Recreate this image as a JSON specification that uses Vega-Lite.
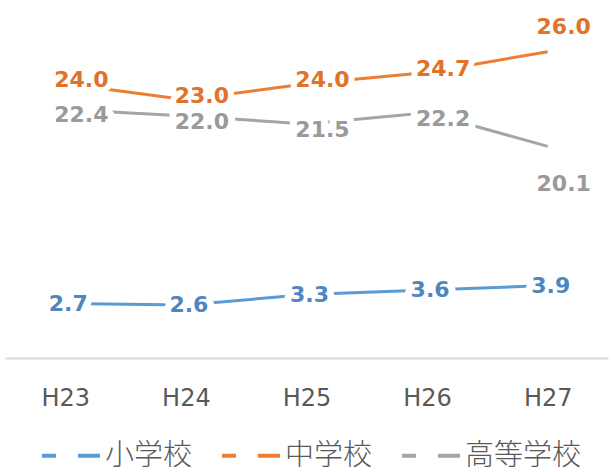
{
  "$schema": "https://vega.github.io/schema/vega-lite/v6.json",
  "width": 603,
  "height": 348,
  "autosize": {"type": "none"},
  "padding": {"left": 5, "top": 10, "right": 3, "bottom": 114},
  "background": "white",
  "config": {"view": {"stroke": null}},
  "data": {
    "values": [
      {"year": "H23", "school": "小学校", "value": 2.7},
      {"year": "H24", "school": "小学校", "value": 2.6},
      {"year": "H25", "school": "小学校", "value": 3.3},
      {"year": "H26", "school": "小学校", "value": 3.6},
      {"year": "H27", "school": "小学校", "value": 3.9},
      {"year": "H23", "school": "中学校", "value": 24.0},
      {"year": "H24", "school": "中学校", "value": 23.0},
      {"year": "H25", "school": "中学校", "value": 24.0},
      {"year": "H26", "school": "中学校", "value": 24.7},
      {"year": "H27", "school": "中学校", "value": 26.0},
      {"year": "H23", "school": "高等学校", "value": 22.4},
      {"year": "H24", "school": "高等学校", "value": 22.0},
      {"year": "H25", "school": "高等学校", "value": 21.5},
      {"year": "H26", "school": "高等学校", "value": 22.2},
      {"year": "H27", "school": "高等学校", "value": 20.1}
    ]
  },
  "encoding": {
    "x": {
      "field": "year",
      "type": "ordinal",
      "sort": ["H23", "H24", "H25", "H26", "H27"],
      "scale": {"type": "point", "padding": 0.5},
      "axis": {
        "title": null,
        "ticks": false,
        "domainColor": "#d9d9d9",
        "domainWidth": 2,
        "labelFont": "DejaVu Sans",
        "labelFontSize": 24,
        "labelColor": "#595959",
        "labelPadding": 28,
        "labelAngle": 0,
        "grid": false
      }
    },
    "y": {
      "field": "value",
      "type": "quantitative",
      "scale": {"type": "linear", "domain": [-0.93, 4, 20, 28.6], "range": [348, 274, 138, 0], "nice": false, "zero": false},
      "axis": null
    }
  },
  "layer": [
    {
      "mark": {"type": "line", "strokeWidth": 3},
      "encoding": {
        "color": {
          "field": "school",
          "type": "nominal",
          "scale": {"domain": ["小学校", "中学校", "高等学校"], "range": ["#5b9bd5", "#ed7d31", "#a5a5a5"]},
          "legend": {
            "title": null,
            "orient": "none",
            "direction": "horizontal",
            "legendX": 49.5,
            "legendY": 429,
            "padding": 0,
            "symbolType": "M-2,0H2",
            "symbolStrokeWidth": 4,
            "symbolSize": 841,
            "symbolDash": [14, 22, 22, 100],
            "labelFont": "Noto Sans CJK JP",
            "labelFontSize": 29,
            "labelColor": "#595959",
            "labelFontWeight": 300,
            "labelOffset": 17.5,
            "columnPadding": 21
          }
        }
      }
    },
    {
      "transform": [{"filter": "datum.school === '高等学校' && datum.year !== 'H27'"}],
      "mark": {"type": "text", "font": "DejaVu Sans", "fontSize": 22, "fontWeight": "bold", "dx": 16, "dy": 6, "fill": "white", "stroke": "white", "strokeWidth": 14, "strokeJoin": "round"},
      "encoding": {"text": {"field": "value", "type": "quantitative", "format": ".1f"}}
    },
    {
      "transform": [{"filter": "datum.school === '中学校' && datum.year !== 'H27'"}],
      "mark": {"type": "text", "font": "DejaVu Sans", "fontSize": 22, "fontWeight": "bold", "dx": 16, "dy": -4, "fill": "white", "stroke": "white", "strokeWidth": 12, "strokeJoin": "round"},
      "encoding": {"text": {"field": "value", "type": "quantitative", "format": ".1f"}}
    },
    {
      "transform": [{"filter": "datum.school === '小学校'"}],
      "mark": {"type": "text", "font": "DejaVu Sans", "fontSize": 22, "fontWeight": "bold", "dx": 3, "fill": "white", "stroke": "white", "strokeWidth": 14, "strokeJoin": "round"},
      "encoding": {"text": {"field": "value", "type": "quantitative", "format": ".1f"}}
    },
    {
      "transform": [{"filter": "datum.school === '高等学校' && datum.year !== 'H27'"}],
      "mark": {"type": "text", "font": "DejaVu Sans", "fontSize": 22, "fontWeight": "bold", "dx": 16, "dy": 6, "color": "#9a9a9a"},
      "encoding": {"text": {"field": "value", "type": "quantitative", "format": ".1f"}}
    },
    {
      "transform": [{"filter": "datum.school === '高等学校' && datum.year === 'H27'"}],
      "mark": {"type": "text", "font": "DejaVu Sans", "fontSize": 22, "fontWeight": "bold", "dx": 16, "dy": 38, "color": "#9a9a9a"},
      "encoding": {"text": {"field": "value", "type": "quantitative", "format": ".1f"}}
    },
    {
      "transform": [{"filter": "datum.school === '中学校' && datum.year !== 'H27'"}],
      "mark": {"type": "text", "font": "DejaVu Sans", "fontSize": 22, "fontWeight": "bold", "dx": 16, "dy": -4, "color": "#e0722a"},
      "encoding": {"text": {"field": "value", "type": "quantitative", "format": ".1f"}}
    },
    {
      "transform": [{"filter": "datum.school === '中学校' && datum.year === 'H27'"}],
      "mark": {"type": "text", "font": "DejaVu Sans", "fontSize": 22, "fontWeight": "bold", "dx": 16, "dy": -25, "color": "#e0722a"},
      "encoding": {"text": {"field": "value", "type": "quantitative", "format": ".1f"}}
    },
    {
      "transform": [{"filter": "datum.school === '小学校'"}],
      "mark": {"type": "text", "font": "DejaVu Sans", "fontSize": 22, "fontWeight": "bold", "dx": 3, "color": "#4f86c0"},
      "encoding": {"text": {"field": "value", "type": "quantitative", "format": ".1f"}}
    }
  ]
}
